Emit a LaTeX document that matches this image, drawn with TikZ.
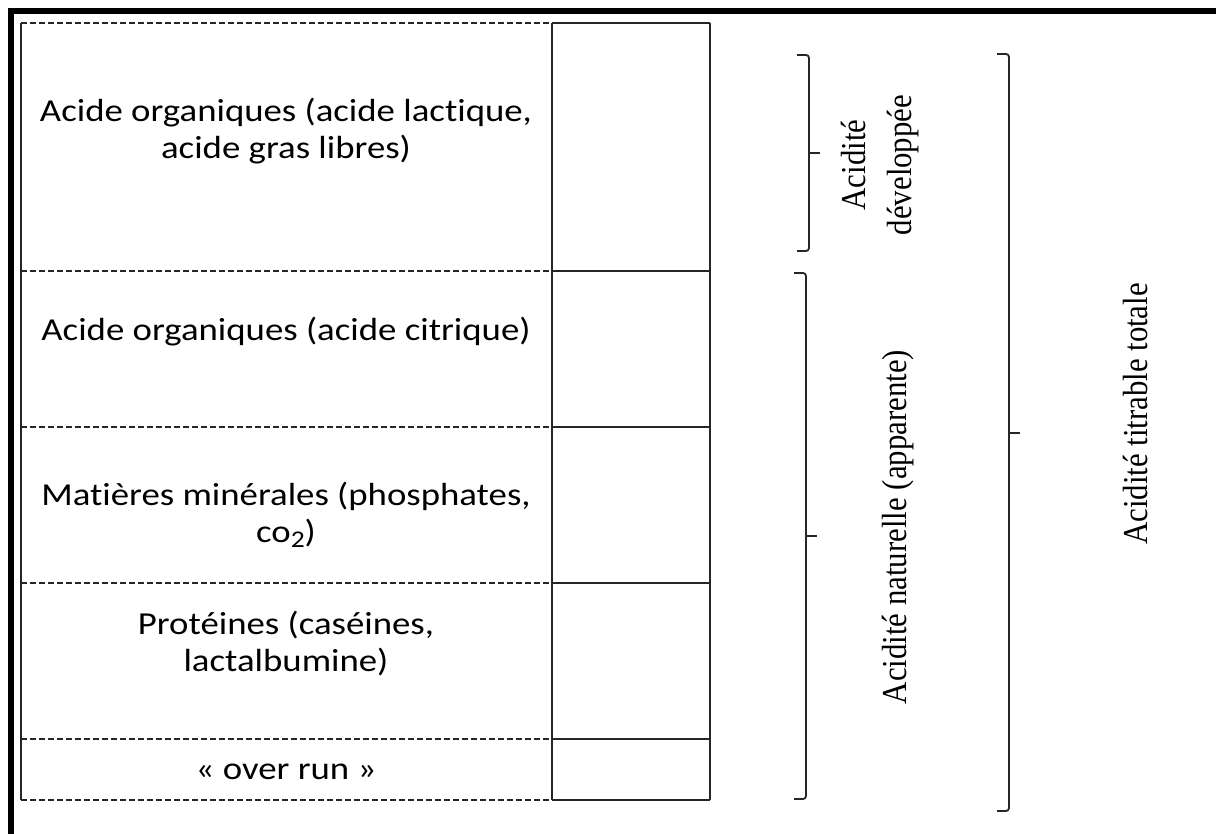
\documentclass[tikz,border=0pt]{standalone}
\usepackage{fontspec}
\setmainfont{Liberation Serif}
\newfontfamily\calib[FakeStretch=1.15,Ligatures=NoCommon]{Carlito}
\newfontfamily\serifcond[FakeStretch=0.88]{Liberation Serif}
\usetikzlibrary{positioning}

\begin{document}
\begin{tikzpicture}[x=1pt,y=-1pt]

		\def\lw{1.8pt}

		\tikzset{rule/.style={draw,line width=\lw,black!85}}
		\tikzset{cut/.style={rule,dash pattern=on 6pt off 3pt}}
		\tikzset{frame/.style={draw,line width=5.5pt}}
		\tikzset{cell/.style={align=center,inner sep=0pt,font={\calib\fontsize{32}{37}\selectfont}}}
		\tikzset{vlabel/.style={align=center,inner sep=0pt,rotate=90,font={\serifcond\fontsize{35}{46}\selectfont}}}

		% Brace: top/middle/bottom
		\tikzset{pics/brace/.style args={#1/#2/#3}{code={%
							\draw[rule,rounded corners=3pt] (-12,#1) -- (0,#1) -- (0,#3) -- (-12,#3);
							\draw[rule] (0,#2) -- (11,#2);
						}}}

		\useasboundingbox (0,0) rectangle (1216,834);
		\draw[frame] (11,850) -- (11,11) -- (1230,11);

		% table
		\draw[rule] (21,23) -- (21,800);
		\draw[rule] (552,23) -- (552,800);
		\draw[rule] (710,23) -- (710,800);
		\foreach \y in {23,271,427,583,739,800} {
				\draw[cut] (21,\y) -- (552,\y);
				\draw[rule] (552,\y) -- (710,\y);
			}

		\node[cell] (lactique) at (286,131) {Acide organiques (acide lactique,\\acide gras libres)};
		\node[cell] (citrique) at (286,332) {Acide organiques (acide citrique)};
		\node[cell] (minerale) at (286,515) {Matières minérales (phosphates,\\co{\fontsize{24}{24}\selectfont\raisebox{-5pt}{2}})};
		\node[cell] (proteine) at (286,644) {Protéines (caséines,\\lactalbumine)};
		\node[cell] (overrun) at (286,772) {« over run »};

		\node[vlabel] (dev) at (880,165) {Acidité\\développée};
		\node[vlabel] (nat) at (898,527) {Acidité naturelle (apparente)};
		\node[vlabel] (tot) at (1135,414) {Acidité titrable totale};

		\pic at (809,0) {brace=55/153/251};
		\pic at (806,0) {brace=273/536/799};
		\pic at (1009,0) {brace=54/433/811};

	\end{tikzpicture}
\end{document}
